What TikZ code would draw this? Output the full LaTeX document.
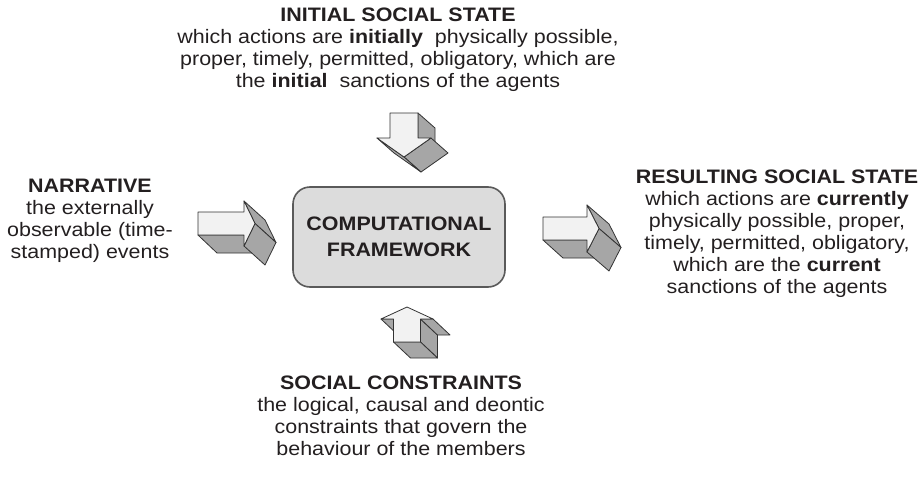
\documentclass[tikz,border=0pt]{standalone}
\usepackage{fontspec}
\setmainfont{Liberation Sans}[FakeStretch=1.1]
\definecolor{txt}{HTML}{231F20}
\definecolor{boxfill}{HTML}{DCDCDC}
\definecolor{boxline}{HTML}{5A5A5A}
\definecolor{afront}{HTML}{F2F2F2}
\definecolor{aside}{HTML}{A6A6A6}
\definecolor{aline}{HTML}{333333}
\begin{document}
\begin{tikzpicture}[x=1pt,y=-1pt,
  every node/.style={text=txt,font=\fontsize{19.5}{22}\selectfont},
  txtblock/.style={align=center,inner sep=0pt,anchor=north},
  side/.style={fill=aside,draw=aline,line width=0.8pt,line join=round},
  front/.style={fill=afront,draw=aline,line width=0.8pt,line join=round}]
\useasboundingbox (0,0) rectangle (922,479);

% central box
\node[draw=boxline,line width=1.6pt,fill=boxfill,rounded corners=17pt,
      minimum width=212pt,minimum height=100pt,align=center,
      font=\fontsize{19.5}{26}\selectfont\bfseries] (cf) at (399,237)
      {COMPUTATIONAL\\FRAMEWORK};

% text blocks
\node[txtblock] (init) at (398,7.5) {\textbf{INITIAL SOCIAL STATE}\\
  which actions are \textbf{initially}\ \ physically possible,\\
  proper, timely, permitted, obligatory, which are\\
  the \textbf{initial}\ \ sanctions of the agents};
\node[txtblock] (narr) at (90,179) {\textbf{NARRATIVE}\\
  the externally\\ observable (time-\\ stamped) events};
\node[txtblock] (res) at (777,170) {\textbf{RESULTING SOCIAL STATE}\\
  which actions are \textbf{currently}\\
  physically possible, proper,\\
  timely, permitted, obligatory,\\
  which are the \textbf{current}\\
  sanctions of the agents};
\node[txtblock] (cons) at (401,376) {\textbf{SOCIAL CONSTRAINTS}\\
  the logical, causal and deontic\\
  constraints that govern the\\
  behaviour of the members};

% left arrow (narrative -> framework)
\begin{scope}[shift={(198,223.5)}]
  \draw[side] (0,11.5) -- (46,11.5) -- (65,29.5) -- (19,29.5) -- cycle;
  \draw[side] (46,-22.5) -- (57,0) -- (78,19) -- (67,-3.5) -- cycle;
  \draw[side] (57,0) -- (46,22.5) -- (67,41.5) -- (78,19) -- cycle;
  \draw[front] (0,-11.5) -- (46,-11.5) -- (46,-22.5) -- (57,0) -- (46,22.5) -- (46,11.5) -- (0,11.5) -- cycle;
\end{scope}

% right arrow (framework -> resulting state)
\begin{scope}[shift={(543,228.5)}]
  \draw[side] (0,11.5) -- (44,11.5) -- (64,29.5) -- (20,29.5) -- cycle;
  \draw[side] (44,-23.5) -- (56,0) -- (78,19) -- (66,-4.5) -- cycle;
  \draw[side] (56,0) -- (44,23.5) -- (66,42.5) -- (78,19) -- cycle;
  \draw[front] (0,-11.5) -- (44,-11.5) -- (44,-23.5) -- (56,0) -- (44,23.5) -- (44,11.5) -- (0,11.5) -- cycle;
\end{scope}

% down arrow (initial state -> framework)
\begin{scope}[shift={(404,113)}]
  \draw[side] (14,0) -- (14,25) -- (31,40) -- (31,15) -- cycle;
  \draw[side] (27,25) -- (0,44) -- (17,59) -- (44,40) -- cycle;
  \draw[side] (0,44) -- (-27,25) -- (-10,40) -- (17,59) -- cycle;
  \draw[front] (-14,0) -- (14,0) -- (14,25) -- (27,25) -- (0,44) -- (-27,25) -- (-14,25) -- cycle;
\end{scope}

% up arrow (constraints -> framework)
\begin{scope}[shift={(407,342)}]
  \draw[side] (13.5,0) -- (13.5,-23) -- (30.5,-7) -- (30.5,16) -- cycle;
  \draw[side] (13.5,-23) -- (26,-23) -- (43,-7) -- (30.5,-7) -- cycle;
  \draw[side] (-26,-23) -- (-13.5,-23) -- (3.5,-7) -- (-9,-7) -- cycle;
  \draw[side] (-13.5,0) -- (13.5,0) -- (30.5,16) -- (3.5,16) -- cycle;
  \draw[front] (-13.5,0) -- (-13.5,-23) -- (-26,-23) -- (0,-35) -- (26,-23) -- (13.5,-23) -- (13.5,0) -- cycle;
\end{scope}
\end{tikzpicture}
\end{document}
